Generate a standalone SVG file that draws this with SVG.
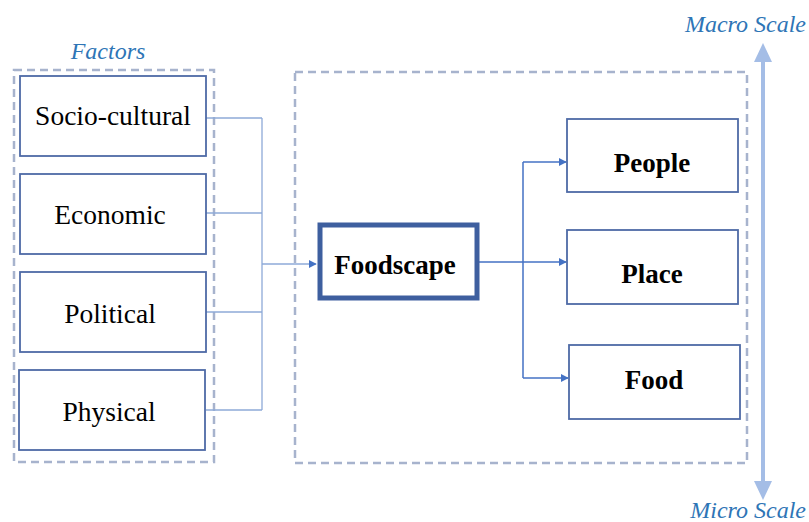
<svg xmlns="http://www.w3.org/2000/svg" width="809" height="522" viewBox="0 0 809 522">
  <style>
    .frame { fill: none; stroke: #a7b3cd; stroke-width: 2.5; stroke-dasharray: 8 5; }
    .box { fill: #ffffff; stroke: #4e6aa6; stroke-width: 1.8; }
    .hub { fill: #ffffff; stroke: #3e5f9f; stroke-width: 5; }
    text { font-family: 'Liberation Serif', 'Times New Roman', serif; }
    .label { font-size: 27.5px; fill: #000000; text-anchor: middle; }
    .bold { font-weight: bold; font-size: 27px; }
    .title { font-style: italic; font-size: 24px; fill: #2e75b6; }
    .feed { fill: none; stroke: #8eaad8; stroke-width: 1.3; }
    .flow { fill: none; stroke: #4472c4; stroke-width: 1.5; }
    .scale { fill: none; stroke: #a4bde6; stroke-width: 4; }
  </style>
  <defs>
    <marker id="arrow" viewBox="0 0 10 10" refX="9" refY="5" markerWidth="8" markerHeight="8" markerUnits="userSpaceOnUse" orient="auto">
      <path d="M0,0 L10,5 L0,10 z" fill="#4472c4"/>
    </marker>
  </defs>

  <!-- dashed group frames -->
  <rect class="frame" x="14" y="70" width="200" height="392"/>
  <rect class="frame" x="295" y="72" width="452" height="391"/>

  <text class="title" x="108" y="59" text-anchor="middle">Factors</text>

  <!-- connectors -->
  <g id="connectors">
    <path class="feed" d="M206,118 H262 M206,213 H262 M206,312 H262 M206,410 H262 M262,118 V410"/>
    <path class="feed" d="M262,264 H316" marker-end="url(#arrow)"/>
    <path class="flow" d="M479,262 H523 M523,162 V378"/>
    <path class="flow" d="M523,162 H566" marker-end="url(#arrow)"/>
    <path class="flow" d="M523,262 H566" marker-end="url(#arrow)"/>
    <path class="flow" d="M523,378 H568" marker-end="url(#arrow)"/>
  </g>

  <!-- factor nodes -->
  <g id="socio-cultural">
    <rect class="box" x="20" y="76" width="186" height="80"/>
    <text class="label" x="113" y="125">Socio-cultural</text>
  </g>
  <g id="economic">
    <rect class="box" x="20" y="174" width="186" height="80"/>
    <text class="label" x="110" y="224">Economic</text>
  </g>
  <g id="political">
    <rect class="box" x="20" y="272" width="186" height="80"/>
    <text class="label" x="110" y="323">Political</text>
  </g>
  <g id="physical">
    <rect class="box" x="19" y="370" width="186" height="80"/>
    <text class="label" x="109" y="421">Physical</text>
  </g>

  <!-- central node -->
  <g id="foodscape">
    <rect class="hub" x="320" y="225" width="157" height="73"/>
    <text class="label bold" x="395" y="274">Foodscape</text>
  </g>

  <!-- outcome nodes -->
  <g id="people">
    <rect class="box" x="567" y="119" width="171" height="73"/>
    <text class="label bold" x="652" y="172">People</text>
  </g>
  <g id="place">
    <rect class="box" x="567" y="230" width="171" height="74"/>
    <text class="label bold" x="652" y="283">Place</text>
  </g>
  <g id="food">
    <rect class="box" x="569" y="345" width="171" height="74"/>
    <text class="label bold" x="654" y="389">Food</text>
  </g>

  <!-- scale axis -->
  <g id="scale">
    <path class="scale" d="M763,60 V484" />
    <path d="M763,43 L754,62 L772,62 z" fill="#a4bde6"/>
    <path d="M763,500 L754,481 L772,481 z" fill="#a4bde6"/>
    <text class="title" x="806" y="32" text-anchor="end">Macro Scale</text>
    <text class="title" x="806" y="518" text-anchor="end">Micro Scale</text>
  </g>
</svg>
